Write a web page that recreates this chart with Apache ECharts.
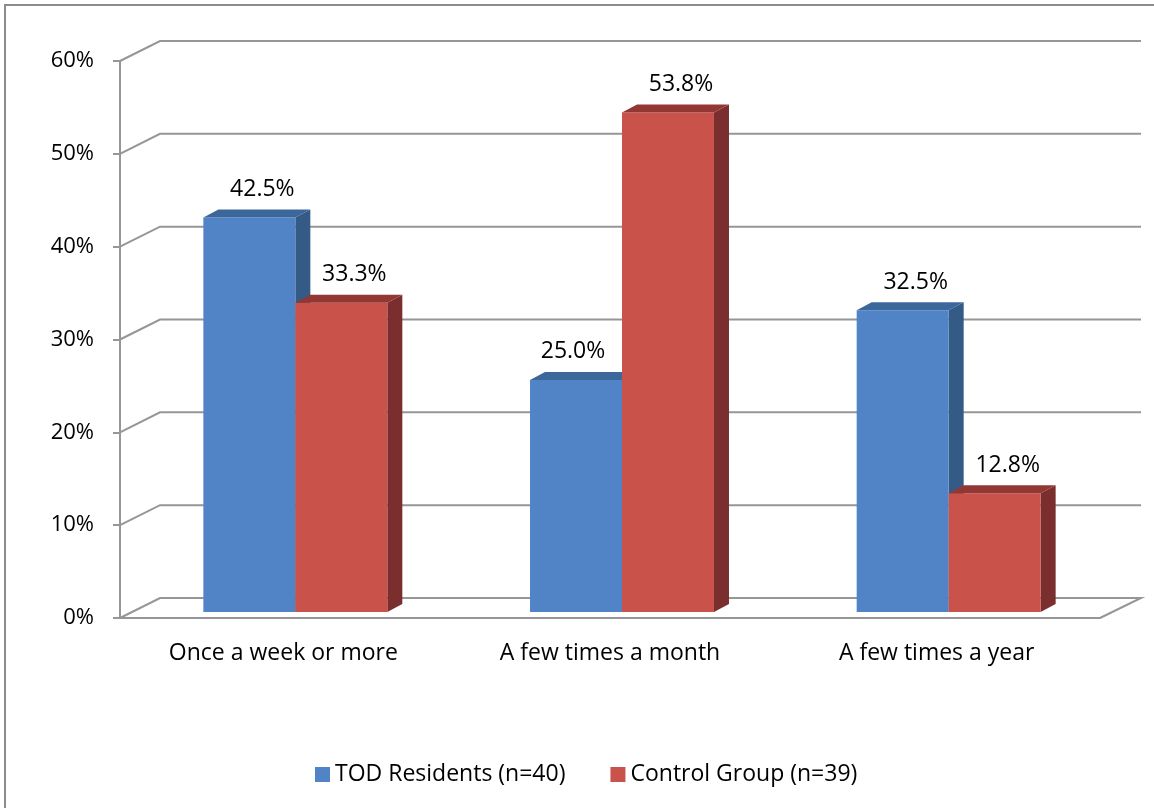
<!DOCTYPE html>
<html>
<head>
<meta charset="utf-8">
<script src="https://cdn.jsdelivr.net/npm/echarts@6/dist/echarts.min.js"></script>
<style>html,body{margin:0;padding:0;background:#fff}#c{width:1154px;height:808px}</style>
</head>
<body>
<div id="c"></div>
<script>
var categories = ['Once a week or more', 'A few times a month', 'A few times a year'];
var todResidents = [42.5, 25.0, 32.5];
var controlGroup = [33.3, 53.8, 12.8];
var seriesNames = ['TOD Residents (n=40)', 'Control Group (n=39)'];
var yTicks = [0, 10, 20, 30, 40, 50, 60];

var FONT = 'Open Sans';
var DEPTH_X = 40, DEPTH_Y = -20;      // back wall offset
var PLANE_X = 12, PLANE_Y = -6;       // bar plane offset
var BAR_DX = 15, BAR_DY = -8;         // bar depth
var BAR_FRAC = 0.2816;                // bar width / category width
var seriesValues = [todResidents, controlGroup];

var palettes = [
  {front: '#5184C6', top: '#3C679A', side: '#345A86'},
  {front: '#C9534A', top: '#933735', side: '#7A2E2E'}
];

function gridRender(params, api) {
  var cs = params.coordSys;
  var v = api.value(0);
  var y = api.coord([0, v])[1];
  var x0 = cs.x, x1 = cs.x + cs.width;
  var pts = [[x0, y], [x0 + DEPTH_X, y + DEPTH_Y], [x1 + DEPTH_X + 1, y + DEPTH_Y]];
  if (v === 0) pts.push([x1, y]);
  return {
    type: 'polyline',
    shape: {points: pts},
    style: {stroke: '#969696', lineWidth: 2, fill: null}
  };
}

function makeBarRender(idx) {
  return function (params, api) {
    var p = palettes[idx];
    var cat = api.value(0);
    var val = api.value(1);
    var band = api.size([1, 0])[0];
    var bw = band * BAR_FRAC;
    var c = api.coord([cat, val]);
    var b = api.coord([cat, 0]);
    var cx = c[0] + PLANE_X;
    var left = idx === 0 ? cx - bw : cx;
    var right = left + bw;
    var top = c[1] + PLANE_Y;
    var base = b[1] + PLANE_Y;
    var lblOff = 13;
    if (idx === 0 && seriesValues[1][cat] > val) lblOff = -3;
    return {
      type: 'group',
      children: [
        {type: 'polygon', shape: {points: [[right, top], [right + BAR_DX, top + BAR_DY], [right + BAR_DX, base + BAR_DY], [right, base]]}, style: {fill: p.side}},
        {type: 'rect', shape: {x: left, y: top, width: bw, height: base - top}, style: {fill: p.front}},
        {type: 'polygon', shape: {points: [[left, top], [left + BAR_DX, top + BAR_DY], [right + BAR_DX, top + BAR_DY], [right, top]]}, style: {fill: p.top}},
        {type: 'text', style: {x: (left + right) / 2 + lblOff, y: top - 28, text: val.toFixed(1) + '%', fill: '#000', font: '23px "' + FONT + '"', textAlign: 'center', textVerticalAlign: 'middle'}}
      ]
    };
  };
}

var chart = echarts.init(document.getElementById('c'), null, {renderer: 'canvas'});
chart.setOption({
  backgroundColor: '#fff',
  animation: false,
  textStyle: {fontFamily: FONT},
  graphic: [{
    type: 'rect', z: -10, silent: true,
    shape: {x: 5, y: 5, width: 1200, height: 900},
    style: {fill: null, stroke: '#8c8c8c', lineWidth: 2}
  }],
  grid: {left: 120, right: 54, top: 61, bottom: 190},
  legend: {
    bottom: 17, left: 310,
    itemWidth: 15, itemHeight: 15, itemGap: 45,
    icon: 'rect',
    textStyle: {fontSize: 23, color: '#000', fontFamily: FONT},
    data: seriesNames
  },
  xAxis: {
    type: 'category',
    data: categories,
    boundaryGap: true,
    axisLine: {lineStyle: {color: '#969696', width: 2}},
    axisTick: {length: 9, lineStyle: {color: '#969696', width: 2}},
    axisLabel: {fontSize: 23, color: '#000', margin: 24, fontFamily: FONT},
    splitLine: {show: false}
  },
  yAxis: {
    type: 'value', min: 0, max: 60, interval: 10,
    axisLine: {show: true, lineStyle: {color: '#969696', width: 2}},
    axisTick: {show: true, length: 7, lineStyle: {color: '#969696', width: 2}},
    axisLabel: {fontSize: 22, color: '#000', margin: 26, formatter: '{value}%', fontFamily: FONT},
    splitLine: {show: false}
  },
  series: [
    {
      type: 'custom', name: '_grid', silent: true, z: 1,
      renderItem: gridRender,
      data: yTicks.map(function (t) { return [t]; }),
      encode: {y: 0}
    },
    {
      type: 'custom', name: seriesNames[0], z: 3,
      itemStyle: {color: palettes[0].front},
      renderItem: makeBarRender(0),
      data: categories.map(function (c, i) { return [i, todResidents[i]]; }),
      encode: {x: 0, y: 1}
    },
    {
      type: 'custom', name: seriesNames[1], z: 4,
      itemStyle: {color: palettes[1].front},
      renderItem: makeBarRender(1),
      data: categories.map(function (c, i) { return [i, controlGroup[i]]; }),
      encode: {x: 0, y: 1}
    }
  ]
});
</script>
</body>
</html>
